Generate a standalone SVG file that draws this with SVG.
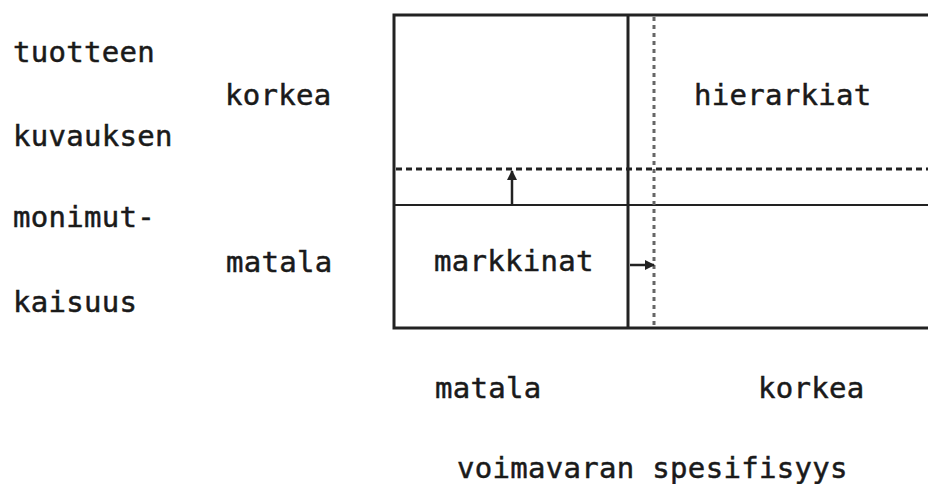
<svg xmlns="http://www.w3.org/2000/svg" width="928" height="484" viewBox="0 0 928 484">
<style>
text{font-family:"DejaVu Sans Mono","Liberation Mono",monospace;font-size:29px;fill:#1a1a1a;stroke:#1a1a1a;stroke-width:0.5;letter-spacing:0.3px}
.frame{stroke:#222;stroke-width:3;fill:none}
.thin{stroke:#222;stroke-width:2;fill:none}
.dash{stroke:#222;stroke-width:3;stroke-dasharray:6 4;fill:none}
.dot{stroke:#666;stroke-width:3;stroke-dasharray:4 4;fill:none}
.arr{stroke:#222;stroke-width:2.5;fill:none}
</style>
<defs>
<marker id="ah" viewBox="0 0 10 10" refX="9" refY="5" markerWidth="4" markerHeight="4" orient="auto">
<path d="M0,0 L10,5 L0,10 z" fill="#222"/>
</marker>
</defs>
<g id="frame">
<path class="frame" d="M928,15 H394 V328 H928"/>
<line class="frame" x1="628" y1="15" x2="628" y2="328"/>
<line class="thin" x1="394" y1="205" x2="928" y2="205"/>
</g>
<g id="connectors">
<line class="dash" x1="396" y1="169" x2="928" y2="169"/>
<line class="dot" x1="654" y1="17" x2="654" y2="326"/>
<line class="arr" x1="512" y1="204" x2="512" y2="171" marker-end="url(#ah)"/>
<line class="arr" x1="630" y1="265" x2="654" y2="265" marker-end="url(#ah)"/>
</g>
<g id="axis-y">
<text x="13" y="62">tuotteen</text>
<text x="13" y="146">kuvauksen</text>
<text x="13" y="227">monimut-</text>
<text x="13" y="312">kaisuus</text>
<text x="225" y="105">korkea</text>
<text x="226" y="272">matala</text>
</g>
<g id="hierarkiat"><text x="694" y="105">hierarkiat</text></g>
<g id="markkinat"><text x="434" y="271">markkinat</text></g>
<g id="axis-x">
<text x="435" y="398">matala</text>
<text x="758" y="398">korkea</text>
<text x="457" y="478">voimavaran spesifisyys</text>
</g>
</svg>
